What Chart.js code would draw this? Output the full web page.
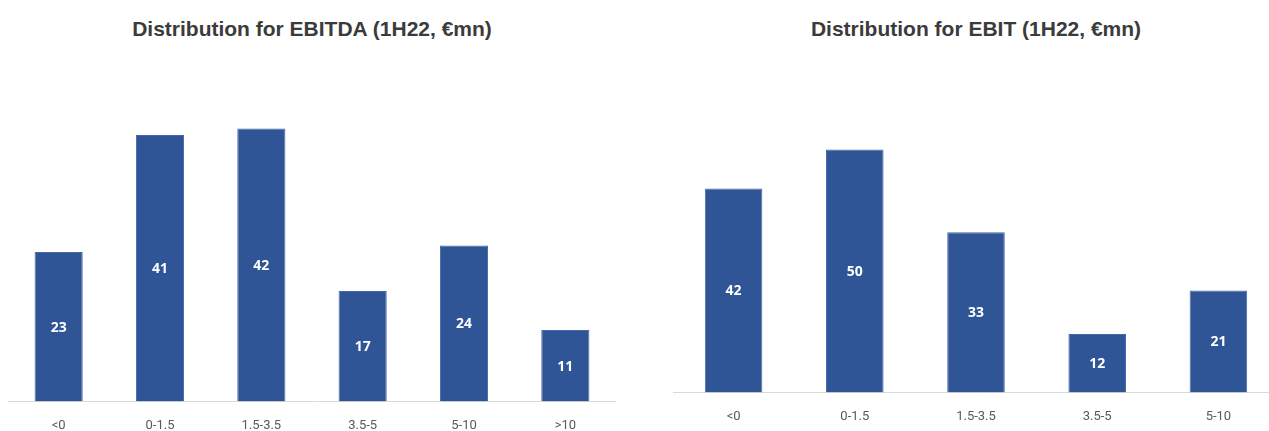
<!DOCTYPE html>
<html>
<head>
<meta charset="utf-8">
<script src="https://cdn.jsdelivr.net/npm/chart.js@4.4.0/dist/chart.umd.min.js"></script>
<style>
  html, body { margin: 0; padding: 0; background: #fff; width: 1269px; height: 431px; overflow: hidden; }
  .title { position: absolute; top: 17px; font: bold 21px "Liberation Sans", Arial, sans-serif; color: #3b3b3b; text-align: center; white-space: nowrap; }
  .box { position: absolute; }
</style>
</head>
<body>
<div class="title" style="left:8px;width:608px">Distribution for EBITDA (1H22, €mn)</div>
<div class="title" style="left:673px;width:606px">Distribution for EBIT (1H22, €mn)</div>
<div class="box" style="left:8px;top:109px;width:608px;height:342px"><canvas id="ebitda"></canvas></div>
<div class="box" style="left:673px;top:101px;width:606px;height:341px"><canvas id="ebit"></canvas></div>
<script>
const ebitdaBuckets = ["<0", "0-1.5", "1.5-3.5", "3.5-5", "5-10", ">10"];
const ebitdaCounts = [23, 41, 42, 17, 24, 11];
const ebitBuckets = ["<0", "0-1.5", "1.5-3.5", "3.5-5", "5-10"];
const ebitCounts = [42, 50, 33, 12, 21];

// white value inside each bar, centred vertically
const barValues = {
  id: "barValues",
  afterDatasetsDraw(chart) {
    const ctx = chart.ctx;
    ctx.save();
    ctx.fillStyle = "#ffffff";
    ctx.font = "bold 14px 'Open Sans', sans-serif";
    ctx.textAlign = "center";
    ctx.textBaseline = "middle";
    chart.getDatasetMeta(0).data.forEach((bar, i) => {
      const v = chart.data.datasets[0].data[i];
      ctx.fillText(v, bar.x, (bar.y + bar.base) / 2 + 1);
    });
    ctx.restore();
  }
};

function makeChart(id, labels, values, yMax) {
  return new Chart(document.getElementById(id), {
    type: "bar",
    data: {
      labels: labels,
      datasets: [{
        data: values,
        backgroundColor: "#2f5597",
        borderColor: "#4468a8",
        borderWidth: 1,
        barPercentage: 0.475,
        categoryPercentage: 1
      }]
    },
    options: {
      responsive: true,
      maintainAspectRatio: false,
      animation: false,
      layout: { padding: 0 },
      plugins: { legend: { display: false }, tooltip: { enabled: false } },
      scales: {
        x: {
          grid: { display: false, drawTicks: false },
          border: { display: true, color: "#d9d9d9", width: 1 },
          ticks: { color: "#595959", font: { family: "Roboto", size: 13 }, padding: 17 }
        },
        y: { display: false, min: 0, max: yMax }
      }
    },
    plugins: [barValues]
  });
}

makeChart("ebitda", ebitdaBuckets, ebitdaCounts, 45);
makeChart("ebit", ebitBuckets, ebitCounts, 60);
</script>
</body>
</html>
